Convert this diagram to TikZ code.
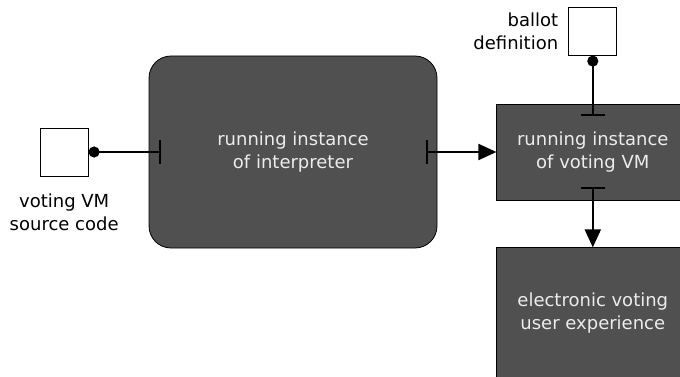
\documentclass[tikz,border=0pt]{standalone}
\usepackage{fontspec}
\setmainfont{DejaVu Sans}
\usetikzlibrary{arrows.meta,positioning}
\definecolor{boxgray} {RGB}{80 , 80 , 80}
\definecolor{boxtext} {RGB}{236,236,236}

\begin{document}
\begin{tikzpicture}[
  x=1pt, y=-1pt,
  every node/.style={font=\fontsize{18}{23}\selectfont, align=center},
  block/.style={draw=black, fill=boxgray, text=boxtext, line width=0.8pt, minimum width=192pt},
  port/.style={draw=black, fill=white, line width=0.8pt, minimum size=48pt, inner sep=0pt},
  caption/.style={inner sep=0pt},
  feed/.style={line width=2pt, {Circle[length=11pt]}-{Bar[width=24pt]}},
  flow/.style={line width=2pt, {Bar[width=24pt]}-{Triangle[length=18pt,width=16pt]}}
]
  \useasboundingbox (0,0) rectangle (680,377);
  % Nodes
  \node (interp) [block, rounded corners=22pt, minimum width=288pt, minimum height=192pt] at (293,152) {running instance\\of interpreter};
  \node (src) [port, left=60pt of interp] {};
  \node (srclabel) [caption, below=17pt of src] {voting VM\\source code};

  \node (vm) [block, minimum height=96pt, right=59pt of interp] {running instance\\of voting VM};
  \node (ballot) [port, above=48pt of vm] {};
  \node (ballotlabel) [caption, align=right, left=10pt of ballot] {ballot\\definition};

  \node (ux) [block, minimum height=131pt, below=47pt of vm] {electronic voting\\user experience};

  % Paths
  \coordinate (interpin) at ([xshift=12pt]interp.west);
  \coordinate (interpout) at ([xshift=-11pt]interp.east);
  \coordinate (vmin) at ([yshift=-12pt]vm.north);
  \coordinate (vmout) at ([yshift=13pt]vm.south);

  \draw [feed] (src.east) -- (interpin);
  \draw [flow] (interpout) -- (vm.west);
  \draw [feed] (ballot.south) -- (vmin);
  \draw [flow] (vmout) -- (ux.north);
\end{tikzpicture}
\end{document}
